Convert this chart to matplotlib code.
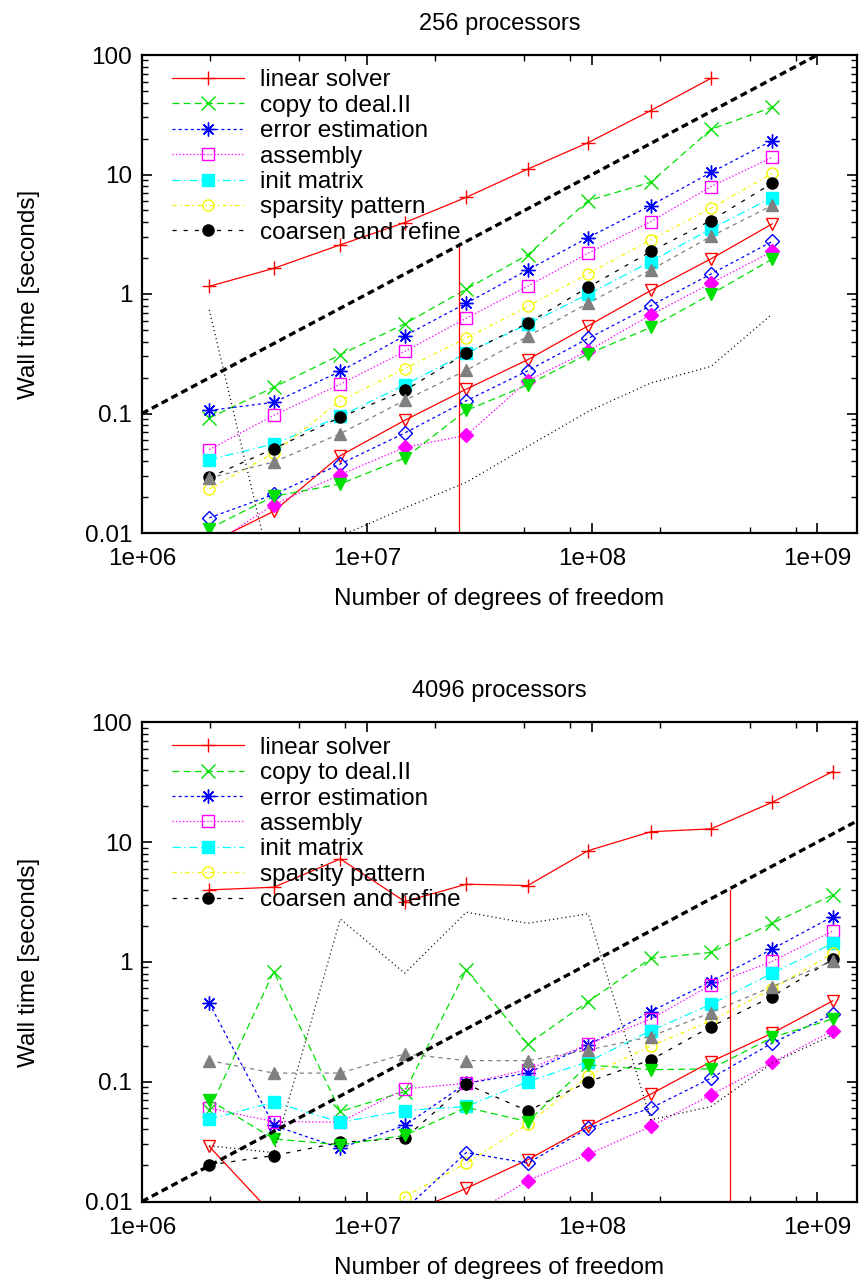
import matplotlib
matplotlib.use("Agg")
import matplotlib.pyplot as plt
from matplotlib.ticker import LogLocator, FixedLocator, FixedFormatter, NullFormatter

plt.rcParams['font.family'] = ['Liberation Sans', 'DejaVu Sans']
plt.rcParams['lines.scale_dashes'] = False

# degrees of freedom (x positions of the runs)
dofs = [1.99e6, 3.85e6, 7.60e6, 1.47e7, 2.76e7, 5.17e7, 9.60e7, 1.82e8, 3.37e8, 6.30e8, 1.17e9]

# ---- 256 processors ----
p256_linear = [1.16, 1.64, 2.58, 3.96, 6.45, 11.1, 18.5, 34.3, 63.8]
p256_copy = [0.0916, 0.166, 0.310, 0.563, 1.10, 2.13, 6.05, 8.61, 23.9, 36.5]
p256_error = [0.106, 0.124, 0.225, 0.447, 0.839, 1.59, 2.97, 5.50, 10.4, 19.2]
p256_assembly = [0.0498, 0.0965, 0.176, 0.331, 0.628, 1.16, 2.20, 4.04, 7.93, 13.9]
p256_initmat = [0.0411, 0.0556, 0.0946, 0.174, 0.320, 0.560, 0.997, 1.87, 3.51, 6.41]
p256_sparsity = [0.0233, 0.0467, 0.128, 0.237, 0.428, 0.787, 1.48, 2.84, 5.22, 10.2]
p256_coarsen = [0.0292, 0.0508, 0.0929, 0.156, 0.320, 0.570, 1.14, 2.27, 4.12, 8.45]
p256_grey = [0.0289, 0.0393, 0.0678, 0.129, 0.230, 0.442, 0.839, 1.59, 3.03, 5.53]
p256_redtri = [0.0082, 0.0152, 0.0444, 0.0877, 0.160, 0.282, 0.542, 1.07, 1.97, 3.86]
p256_bluedia = [0.0134, 0.0210, 0.0378, 0.0687, 0.128, 0.228, 0.425, 0.797, 1.47, 2.75]
p256_magdia = [0.0077, 0.0173, 0.0308, 0.0521, 0.0657, 0.188, 0.335, 0.670, 1.23, 2.27]
p256_greentri = [0.0109, 0.0203, 0.0257, 0.0425, 0.106, 0.174, 0.316, 0.525, 0.997, 1.96]
p256_dotted = [0.738, 0.0039, 0.0094, 0.0162, 0.0266, 0.0531, 0.104, 0.180, 0.248, 0.679]
p256_vline_x = [2.56e7, 2.56e7]
p256_vline_y = [1e-3, 2.6]
p256_ideal_x = [1e6, 1e10]
p256_ideal_y = [0.1, 1000]

# ---- 4096 processors ----
p4096_linear = [3.99, 4.20, 7.24, 3.19, 4.45, 4.34, 8.49, 12.2, 12.9, 21.5, 38.8]
p4096_copy = [0.0582, 0.830, 0.0564, 0.0828, 0.857, 0.206, 0.467, 1.07, 1.20, 2.10, 3.62]
p4096_error = [0.452, 0.0431, 0.0279, 0.0431, 0.097, 0.118, 0.203, 0.385, 0.686, 1.28, 2.39]
p4096_assembly = [0.0601, 0.0465, 0.046, 0.0871, 0.097, 0.126, 0.206, 0.334, 0.643, 1.01, 1.81]
p4096_initmat = [0.0486, 0.0675, 0.0459, 0.0574, 0.0621, 0.100, 0.147, 0.266, 0.443, 0.804, 1.43]
p4096_sparsity = [0.003, 0.003, 0.002, 0.0110, 0.0209, 0.0442, 0.112, 0.199, 0.322, 0.595, 1.18]
p4096_coarsen = [0.0202, 0.0242, 0.0311, 0.0338, 0.0953, 0.0571, 0.100, 0.152, 0.288, 0.514, 1.05]
p4096_grey = [0.150, 0.118, 0.118, 0.171, 0.150, 0.150, 0.184, 0.238, 0.378, 0.622, 1.02]
p4096_redtri = [0.0288, 0.0076, 0.005, 0.0077, 0.0129, 0.0223, 0.0423, 0.0787, 0.147, 0.254, 0.473]
p4096_bluedia = [0.004, 0.005, 0.006, 0.0086, 0.0256, 0.0209, 0.0409, 0.0601, 0.107, 0.210, 0.366]
p4096_magdia = [0.003, 0.004, 0.005, 0.006, 0.0073, 0.0149, 0.0248, 0.0423, 0.0776, 0.145, 0.266]
p4096_greentri = [0.0705, 0.0333, 0.0297, 0.0356, 0.0609, 0.0465, 0.138, 0.126, 0.128, 0.234, 0.334]
p4096_dotted = [0.0292, 0.0256, 2.28, 0.804, 2.60, 2.10, 2.52, 0.0480, 0.0621, 0.143, 0.246]
p4096_vline_x = [4.09e8, 4.09e8]
p4096_vline_y = [1e-3, 4.0]
p4096_ideal_x = [1e6, 1e10]
p4096_ideal_y = [0.01, 100]

labels = ['linear solver', 'copy to deal.II', 'error estimation', 'assembly',
          'init matrix', 'sparsity pattern', 'coarsen and refine']

GREEN = '#00e000'
LW = 0.9
FS = 17.5
# (color, marker, filled, dashes)
styles = [
    ('#ff0000', '+', True, None),
    (GREEN, 'x', True, (5, 3)),
    ('#0000ff', (8, 2, 0), True, (2.2, 2.2)),
    ('#ff00ff', 's', False, (1, 1.5)),
    ('#00ffff', 's', True, (6, 2.5, 1, 2.5)),
    ('#f5f500', 'o', False, (3, 2.5, 1, 2.5)),
    ('#000000', 'o', True, (3, 5)),
]
extra_styles = [
    ('#808080', '^', True, (3, 3)),
    ('#ff0000', 'v', False, None),
    ('#0000ff', 'D', False, (2.2, 2.2)),
    ('#ff00ff', 'D', True, (1, 1.5)),
    (GREEN, 'v', True, (5, 3)),
]


def draw(ax, series, extras, dotted, vx, vy, ix, iy, title):
    for (c, m, filled, dash), vals, lab in zip(styles, series, labels):
        ms = 10 if m in ('+', 'x') or isinstance(m, tuple) else 8
        kw = dict(color=c, lw=LW, marker=m, markersize=ms, label=lab,
                  markerfacecolor=c if filled else 'none', markeredgecolor=c,
                  markeredgewidth=1.0)
        line, = ax.plot(dofs[:len(vals)], vals, **kw)
        if dash is not None:
            line.set_dashes(dash)
    for (c, m, filled, dash), vals in zip(extra_styles, extras):
        ms = 7 if m == 'D' else 8
        line, = ax.plot(dofs[:len(vals)], vals, color=c, lw=LW, marker=m, markersize=ms,
                        markerfacecolor=c if filled else 'none', markeredgecolor=c,
                        markeredgewidth=1.0)
        if dash is not None:
            line.set_dashes(dash)
    dl, = ax.plot(dofs[:len(dotted)], dotted, color='#000000', lw=LW)
    dl.set_dashes((0.8, 2.2))
    ax.plot(vx, vy, color='#ff0000', lw=LW)
    il, = ax.plot(ix, iy, color='#000000', lw=2.4)
    il.set_dashes((5, 3))

    ax.set_xscale('log')
    ax.set_yscale('log')
    ax.set_xlim(1e6, 1.5e9)
    ax.set_ylim(0.01, 100)
    ax.xaxis.set_major_locator(FixedLocator([1e6, 1e7, 1e8, 1e9]))
    ax.xaxis.set_major_formatter(FixedFormatter(['1e+06', '1e+07', '1e+08', '1e+09']))
    ax.xaxis.set_minor_locator(LogLocator(base=10, subs=[2, 5, 8]))
    ax.xaxis.set_minor_formatter(NullFormatter())
    ax.yaxis.set_major_locator(FixedLocator([0.01, 0.1, 1, 10, 100]))
    ax.yaxis.set_major_formatter(FixedFormatter(['0.01', '0.1', '1', '10', '100']))
    ax.yaxis.set_minor_locator(LogLocator(base=10, subs=range(2, 10)))
    ax.yaxis.set_minor_formatter(NullFormatter())
    ax.tick_params(which='both', direction='in', top=True, right=True, labelsize=FS)
    ax.tick_params(axis='x', which='major', pad=11)
    ax.tick_params(axis='y', which='major', pad=7)
    ax.tick_params(which='major', length=7.5, width=1.2)
    ax.tick_params(which='minor', length=4, width=1.0)
    for s in ax.spines.values():
        s.set_linewidth(1.6)
    ax.set_xlabel('Number of degrees of freedom', fontsize=FS)
    ax.xaxis.set_label_coords(0.5, -0.115)
    ax.set_ylabel('Wall time [seconds]', fontsize=FS)
    ax.yaxis.set_label_coords(-0.142, 0.5)
    ax.set_title(title, fontsize=17, pad=18)
    ax.legend(loc='upper left', bbox_to_anchor=(0.042, 0.97), frameon=False,
              fontsize=FS, handlelength=2.95, handletextpad=0.65, labelspacing=0.14,
              borderaxespad=0.0, borderpad=0.0, numpoints=1)


fig = plt.figure(figsize=(8.59, 12.79), dpi=100)
ax1 = fig.add_axes([142 / 859, 1 - 533 / 1279, 715 / 859, 478 / 1279])
ax2 = fig.add_axes([142 / 859, 1 - 1201.5 / 1279, 715 / 859, 479.2 / 1279])

draw(ax1,
     [p256_linear, p256_copy, p256_error, p256_assembly, p256_initmat, p256_sparsity, p256_coarsen],
     [p256_grey, p256_redtri, p256_bluedia, p256_magdia, p256_greentri],
     p256_dotted, p256_vline_x, p256_vline_y, p256_ideal_x, p256_ideal_y, '256 processors')
draw(ax2,
     [p4096_linear, p4096_copy, p4096_error, p4096_assembly, p4096_initmat, p4096_sparsity, p4096_coarsen],
     [p4096_grey, p4096_redtri, p4096_bluedia, p4096_magdia, p4096_greentri],
     p4096_dotted, p4096_vline_x, p4096_vline_y, p4096_ideal_x, p4096_ideal_y, '4096 processors')

fig.savefig('out.png', dpi=100)
